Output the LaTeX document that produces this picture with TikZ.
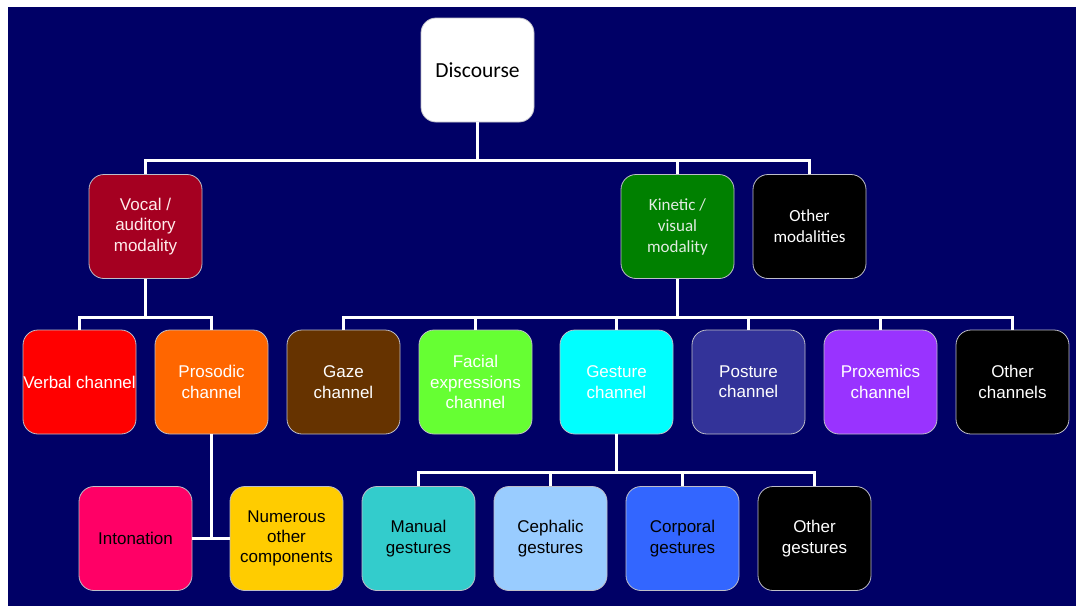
\documentclass[tikz,border=0pt]{standalone}
\usepackage{fontspec}
\setmainfont{Liberation Sans}
\newfontfamily\calfont{Carlito}
\definecolor{bgnavy}{RGB}{0,0,102}
\definecolor{boxline}{RGB}{190,190,200}
\definecolor{cVocal}{HTML}{A50021}
\definecolor{cKin}{HTML}{008000}
\definecolor{cVerbal}{HTML}{FF0000}
\definecolor{cPros}{HTML}{FF6600}
\definecolor{cGaze}{HTML}{663300}
\definecolor{cFacial}{HTML}{66FF33}
\definecolor{cGest}{HTML}{00FFFF}
\definecolor{cPost}{HTML}{333399}
\definecolor{cProx}{HTML}{9933FF}
\definecolor{cInto}{HTML}{FF0066}
\definecolor{cNum}{HTML}{FFCC00}
\definecolor{cMan}{HTML}{33CCCC}
\definecolor{cCeph}{HTML}{99CCFF}
\definecolor{cCorp}{HTML}{3366FF}
\definecolor{cKtext}{RGB}{225,235,225}
\begin{document}
\begin{tikzpicture}[x=1pt,y=-1pt,
  box/.style={draw=boxline, line width=0.8pt, rounded corners=15pt,
    minimum width=113pt, minimum height=104pt, inner sep=0pt, align=center,
    font=\fontsize{17}{20.3}\selectfont, text=white},
  calbox/.style={box, font=\calfont\fontsize{17}{21}\selectfont},
  link/.style={draw=white, line width=3pt}]
\fill[white] (0,0) rectangle (1076,606);
\fill[bgnavy] (8,7) rectangle (1076,606);
\useasboundingbox (0,0) rectangle (1076,606);

% level 0
\node[calbox, fill=white, text=black, font=\calfont\fontsize{21.5}{25}\selectfont] (disc) at (477.5,70) {Discourse};
% level 1
\node[box, fill=cVocal, text={rgb,255:red,255;green,235;blue,235}] (vocal) at (145.5,226.5) {Vocal /\\auditory\\modality};
\node[calbox, fill=cKin, text=cKtext] (kin) at (677.5,226.5) {Kinetic /\\visual\\modality};
\node[calbox, fill=black] (omod) at (809.5,226.5) {Other\\modalities};
% level 2
\node[box, fill=cVerbal] (verbal) at (79.5,382) {Verbal channel};
\node[box, fill=cPros] (pros) at (211.5,382) {Prosodic\\channel};
\node[box, fill=cGaze] (gaze) at (343.5,382) {Gaze\\channel};
\node[box, fill=cFacial] (facial) at (475.5,382) {Facial\\expressions\\channel};
\node[box, fill=cGest] (gest) at (616.5,382) {Gesture\\channel};
\node[box, fill=cPost] (post) at (748.5,382) {Posture\\channel};
\node[box, fill=cProx] (prox) at (880.5,382) {Proxemics\\channel};
\node[box, fill=black] (ochan) at (1012.5,382) {Other\\channels};
% level 3
\node[box, fill=cInto, text=black] (into) at (135.5,538.5) {Intonation};
\node[box, fill=cNum, text=black] (num) at (286.5,538.5) {Numerous\\other\\components};
\node[box, fill=cMan, text=black] (man) at (418.5,538.5) {Manual\\gestures};
\node[box, fill=cCeph, text=black] (ceph) at (550.5,538.5) {Cephalic\\gestures};
\node[box, fill=cCorp, text=black] (corp) at (682.5,538.5) {Corporal\\gestures};
\node[box, fill=black] (oges) at (814.5,538.5) {Other\\gestures};

% bars
\coordinate (b0) at (477.5,160);
\coordinate (bv) at (145.5,317);
\coordinate (bk) at (677.5,317);
\coordinate (bg) at (616.5,472);

% connectors
\draw[link] (disc.south) -- (b0);
\draw[link] (vocal.north) |- (b0) -| (omod.north);
\draw[link] (kin.north) -- (kin.north |- b0);

\draw[link] (vocal.south) -- (bv);
\draw[link] (verbal.north) |- (bv) -| (pros.north);

\draw[link] (kin.south) -- (bk);
\draw[link] (gaze.north) |- (bk) -| (ochan.north);
\foreach \n in {facial,gest,post,prox} \draw[link] (\n.north) -- (\n.north |- bk);

\draw[link] (pros.south) -- (pros.south |- into.east);
\draw[link] (into.east) -- (num.west);

\draw[link] (gest.south) -- (bg);
\draw[link] (man.north) |- (bg) -| (oges.north);
\foreach \n in {ceph,corp} \draw[link] (\n.north) -- (\n.north |- bg);
\end{tikzpicture}
\end{document}
